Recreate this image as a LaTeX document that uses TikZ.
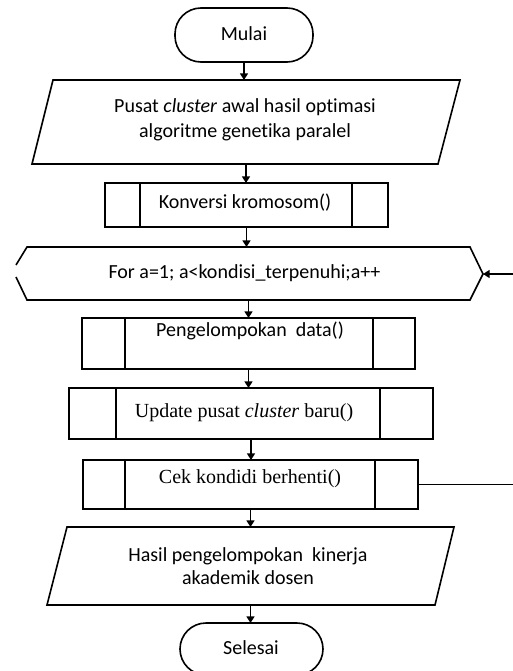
\documentclass[tikz,border=0pt]{standalone}
\usepackage{fontspec}
\setmainfont{Carlito}[Ligatures=NoCommon]
\newfontfamily\timesfont{Liberation Serif}[Ligatures=NoCommon]
\usetikzlibrary{arrows.meta,calc}
\begin{document}
\begin{tikzpicture}[x=0.75pt,y=-0.75pt,
  ln/.style={line width=1.2pt, line join=miter},
  shp/.style={draw=black, line width=1.2pt, inner sep=0pt, outer sep=0pt},
  term/.style={shp, rounded corners=19.5pt},
  subbox/.style={shp, rectangle},
  ghost/.style={inner sep=0pt, outer sep=0pt, draw=none},
  txt/.style={font=\fontsize{15}{18.75}\selectfont, align=center, inner sep=0pt},
  stxt/.style={font=\timesfont\fontsize{15}{18}\selectfont, inner sep=0pt},
  arr/.style={line width=1.2pt, -{Triangle[length=5pt,width=6pt]}}]
\useasboundingbox (0,0) rectangle (512,671);

% shapes
\node[term, minimum width=103.5pt, minimum height=40.5pt] (m) at (244,35) {};
\node[ghost, minimum width=321pt, minimum height=63pt] (p1) at (246,122) {};
\draw[ln] ([xshift=15.75pt]p1.north west) -- (p1.north east) -- ([xshift=-16.5pt]p1.south east) -- (p1.south west) -- cycle;
\node[subbox, minimum width=212.25pt, minimum height=33pt] (k) at (246.5,205) {};
\draw[ln] ([xshift=26.25pt]k.north west) -- ([xshift=26.25pt]k.south west);
\draw[ln] ([xshift=-27pt]k.north east) -- ([xshift=-27pt]k.south east);

\node[ghost, minimum width=332.25pt, minimum height=39.75pt] (hex) at (248.5,273.5) {};
\coordinate (hextip) at (483,274);
\draw[ln] (hex.north west) ++(-11,18) -- (hex.north west) -- (hex.north east) -- (hextip) -- (hex.south east) -- (hex.south west) -- ++(-11,-23);

\node[subbox, minimum width=249.75pt, minimum height=38.25pt] (pg) at (248.5,343.5) {};
\draw[ln] ([xshift=32.25pt]pg.north west) -- ([xshift=32.25pt]pg.south west);
\draw[ln] ([xshift=-31.5pt]pg.north east) -- ([xshift=-31.5pt]pg.south east);

\node[subbox, minimum width=273pt, minimum height=38.25pt] (up) at (251,413.5) {};
\draw[ln] ([xshift=35.25pt]up.north west) -- ([xshift=35.25pt]up.south west);
\draw[ln] ([xshift=-39.75pt]up.north east) -- ([xshift=-39.75pt]up.south east);

\node[subbox, minimum width=251.25pt, minimum height=36.75pt] (ck) at (250.5,484.5) {};
\draw[ln] ([xshift=31.5pt]ck.north west) -- ([xshift=31.5pt]ck.south west);
\draw[ln] ([xshift=-32.25pt]ck.north east) -- ([xshift=-32.25pt]ck.south east);

\node[ghost, minimum width=305.25pt, minimum height=58.5pt] (p2) at (250.5,566) {};
\draw[ln] ([xshift=15pt]p2.north west) -- (p2.north east) -- ([xshift=-14.25pt]p2.south east) -- (p2.south west) -- cycle;

\node[term, minimum width=107.25pt, minimum height=39pt] (sel) at (251.5,649) {};

% texts
\node[txt] (tm) at (244,34) {Mulai};
\node[txt] (tp1) at (245,120) {Pusat \textit{cluster} awal hasil optimasi\\algoritme genetika paralel};
\node[txt] (tk) at (245,203) {Konversi kromosom()};
\node[txt] (thex) at (244.5,273) {For a=1; a<kondisi\_terpenuhi;a++};
\node[txt] (tpg) at (250,331) {Pengelompokan\ \ data()};
\node[stxt] (tup) at (244,413) {Update pusat \textit{cluster} baru()};
\node[stxt] (tck) at (250,479) {Cek kondidi berhenti()};
\node[txt, font=\fontsize{15}{17.25}\selectfont] (tp2) at (248,566.5) {Hasil pengelompokan\ \ kinerja\\akademik dosen};
\node[txt] (tsel) at (251,648) {Selesai};

% connectors
\draw[arr] (m.south) -- (m.south |- p1.north);
\draw[arr] (p1.south) -- (p1.south |- k.north);
\draw[arr] (k.south) -- (k.south |- hex.north);
\draw[arr] (hex.south) -- (hex.south |- pg.north);
\draw[arr] (pg.south) -- (pg.south |- up.north);
\draw[arr] (up.south) -- (up.south |- ck.north);
\draw[arr] (ck.south) -- (ck.south |- p2.north);
\draw[arr] (p2.south) -- (p2.south |- sel.north);
\draw[arr] (ck.east) -- ++(110,0) |- (hextip);
\end{tikzpicture}
\end{document}
